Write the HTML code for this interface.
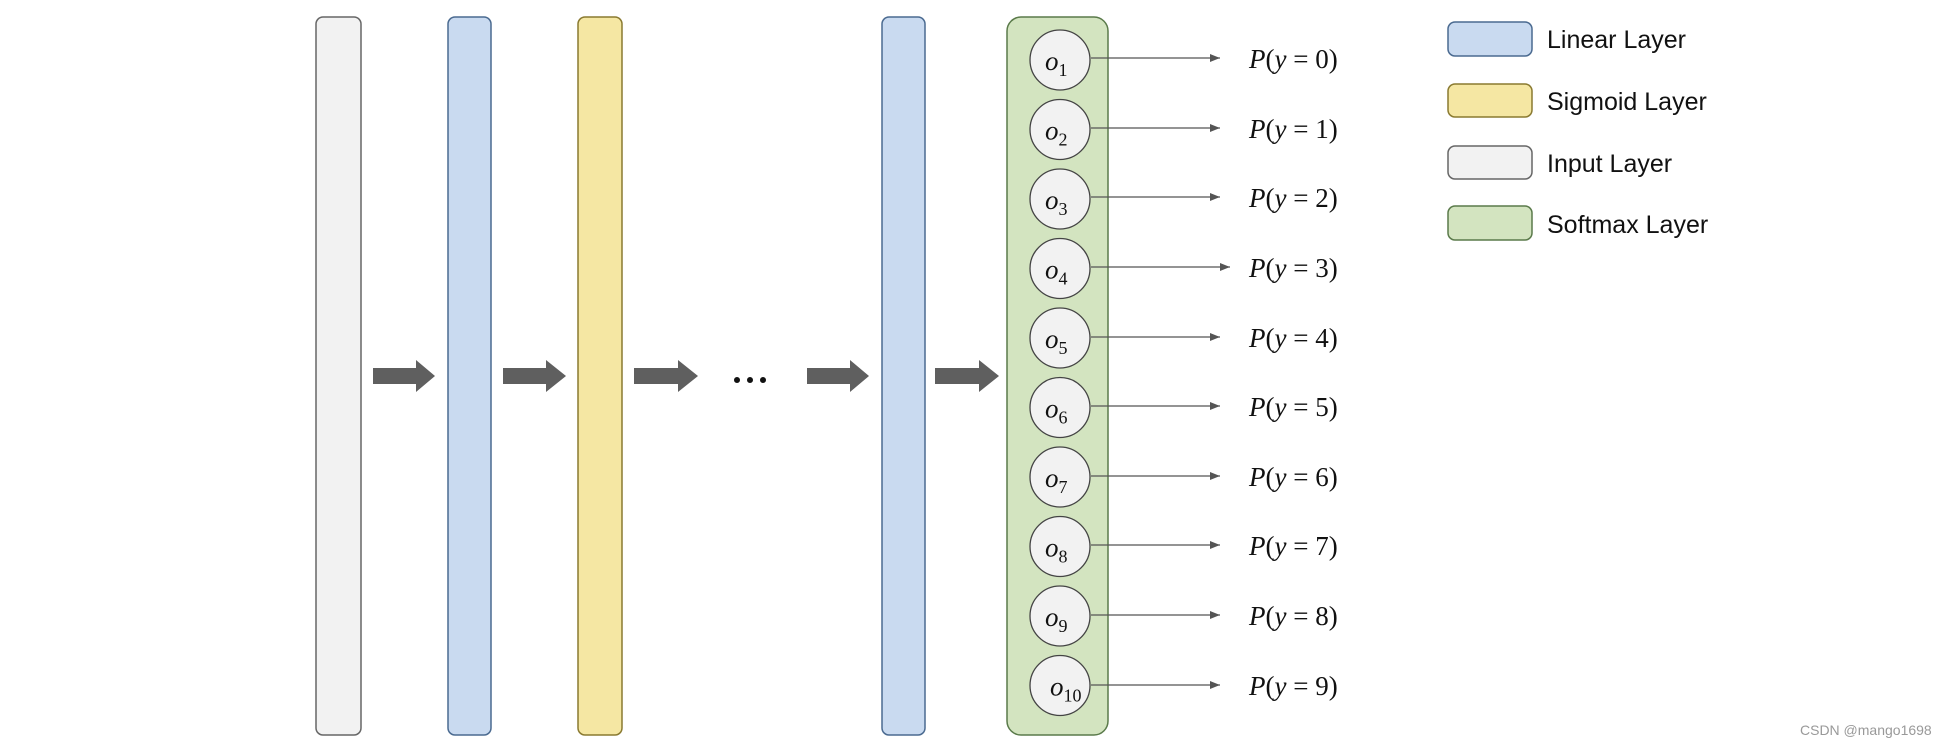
<!DOCTYPE html>
<html><head><meta charset="utf-8"><style>
html,body{margin:0;padding:0;background:#fff;}
svg{display:block;}
.p{font-family:"Liberation Serif",serif;font-size:27px;fill:#111;}
.l{font-family:"Liberation Sans",sans-serif;font-size:25px;fill:#111;}
</style></head><body>
<svg width="1950" height="748" viewBox="0 0 1950 748" xmlns="http://www.w3.org/2000/svg">
<defs><marker id="ah" markerWidth="10" markerHeight="8" refX="10" refY="4" orient="auto" markerUnits="userSpaceOnUse"><path d="M0,0 L10,4 L0,8 Z" fill="#555"/></marker></defs>
<rect x="316" y="17" width="45" height="718" rx="7" fill="#f2f2f2" stroke="#666" stroke-width="1.5"/>
<rect x="448" y="17" width="43" height="718" rx="7" fill="#c9daf0" stroke="#4a6a90" stroke-width="1.5"/>
<rect x="578" y="17" width="44" height="718" rx="7" fill="#f5e7a3" stroke="#8a7a30" stroke-width="1.5"/>
<rect x="882" y="17" width="43" height="718" rx="7" fill="#c9daf0" stroke="#4a6a90" stroke-width="1.5"/>
<rect x="1007" y="17" width="101" height="718" rx="14" fill="#d3e4c0" stroke="#5a7a4a" stroke-width="1.5"/>
<g fill="#5f5f5f">
<path d="M373,368 H416 V360 L435,376 L416,392 V384 H373 Z"/>
<path d="M503,368 H546 V360 L566,376 L546,392 V384 H503 Z"/>
<path d="M634,368 H678 V360 L698,376 L678,392 V384 H634 Z"/>
<path d="M807,368 H850 V360 L869,376 L850,392 V384 H807 Z"/>
<path d="M935,368 H979 V360 L999,376 L979,392 V384 H935 Z"/>
</g>
<g fill="#111"><circle cx="737" cy="380" r="3"/><circle cx="750" cy="380" r="3"/><circle cx="763" cy="380" r="3"/></g>
<g id="rows">
</g>
<g stroke="#444" stroke-width="1.3" fill="#f2f2f2">
<circle cx="1060" cy="60" r="30"/><circle cx="1060" cy="129.5" r="30"/><circle cx="1060" cy="199" r="30"/><circle cx="1060" cy="268.5" r="30"/><circle cx="1060" cy="338" r="30"/><circle cx="1060" cy="407.5" r="30"/><circle cx="1060" cy="477" r="30"/><circle cx="1060" cy="546.5" r="30"/><circle cx="1060" cy="616" r="30"/><circle cx="1060" cy="685.5" r="30"/>
</g>
<g stroke="#555" stroke-width="1.3" marker-end="url(#ah)">
<line x1="1091" y1="58" x2="1220" y2="58"/><line x1="1091" y1="128" x2="1220" y2="128"/><line x1="1091" y1="197" x2="1220" y2="197"/><line x1="1091" y1="267" x2="1230" y2="267"/><line x1="1091" y1="337" x2="1220" y2="337"/><line x1="1091" y1="406" x2="1220" y2="406"/><line x1="1091" y1="476" x2="1220" y2="476"/><line x1="1091" y1="545" x2="1220" y2="545"/><line x1="1091" y1="615" x2="1220" y2="615"/><line x1="1091" y1="685" x2="1220" y2="685"/>
</g>
<g class="p" font-style="italic">
<text x="1045" y="70">o<tspan font-size="18" font-style="normal" dy="6">1</tspan></text>
<text x="1045" y="139.5">o<tspan font-size="18" font-style="normal" dy="6">2</tspan></text>
<text x="1045" y="209">o<tspan font-size="18" font-style="normal" dy="6">3</tspan></text>
<text x="1045" y="278.5">o<tspan font-size="18" font-style="normal" dy="6">4</tspan></text>
<text x="1045" y="348">o<tspan font-size="18" font-style="normal" dy="6">5</tspan></text>
<text x="1045" y="417.5">o<tspan font-size="18" font-style="normal" dy="6">6</tspan></text>
<text x="1045" y="487">o<tspan font-size="18" font-style="normal" dy="6">7</tspan></text>
<text x="1045" y="556.5">o<tspan font-size="18" font-style="normal" dy="6">8</tspan></text>
<text x="1045" y="626">o<tspan font-size="18" font-style="normal" dy="6">9</tspan></text>
<text x="1050" y="695.5">o<tspan font-size="18" font-style="normal" dy="6">10</tspan></text>
</g>
<g class="p">
<text x="1249" y="68"><tspan font-style="italic">P</tspan>(<tspan font-style="italic">y</tspan> = 0)</text>
<text x="1249" y="138"><tspan font-style="italic">P</tspan>(<tspan font-style="italic">y</tspan> = 1)</text>
<text x="1249" y="207"><tspan font-style="italic">P</tspan>(<tspan font-style="italic">y</tspan> = 2)</text>
<text x="1249" y="277"><tspan font-style="italic">P</tspan>(<tspan font-style="italic">y</tspan> = 3)</text>
<text x="1249" y="347"><tspan font-style="italic">P</tspan>(<tspan font-style="italic">y</tspan> = 4)</text>
<text x="1249" y="416"><tspan font-style="italic">P</tspan>(<tspan font-style="italic">y</tspan> = 5)</text>
<text x="1249" y="486"><tspan font-style="italic">P</tspan>(<tspan font-style="italic">y</tspan> = 6)</text>
<text x="1249" y="555"><tspan font-style="italic">P</tspan>(<tspan font-style="italic">y</tspan> = 7)</text>
<text x="1249" y="625"><tspan font-style="italic">P</tspan>(<tspan font-style="italic">y</tspan> = 8)</text>
<text x="1249" y="695"><tspan font-style="italic">P</tspan>(<tspan font-style="italic">y</tspan> = 9)</text>
</g>
<rect x="1448" y="22" width="84" height="34" rx="7" fill="#c9daf0" stroke="#4a6a90" stroke-width="1.5"/>
<rect x="1448" y="84" width="84" height="33" rx="7" fill="#f5e7a3" stroke="#8a7a30" stroke-width="1.5"/>
<rect x="1448" y="146" width="84" height="33" rx="7" fill="#f2f2f2" stroke="#666" stroke-width="1.5"/>
<rect x="1448" y="206" width="84" height="34" rx="7" fill="#d3e4c0" stroke="#5a7a4a" stroke-width="1.5"/>
<text class="l" x="1547" y="48">Linear Layer</text>
<text class="l" x="1547" y="110">Sigmoid Layer</text>
<text class="l" x="1547" y="172">Input Layer</text>
<text class="l" x="1547" y="233">Softmax Layer</text>
<text x="1800" y="735" font-family="Liberation Sans,sans-serif" font-size="14" fill="#999">CSDN @mango1698</text>
</svg>
</body></html>
